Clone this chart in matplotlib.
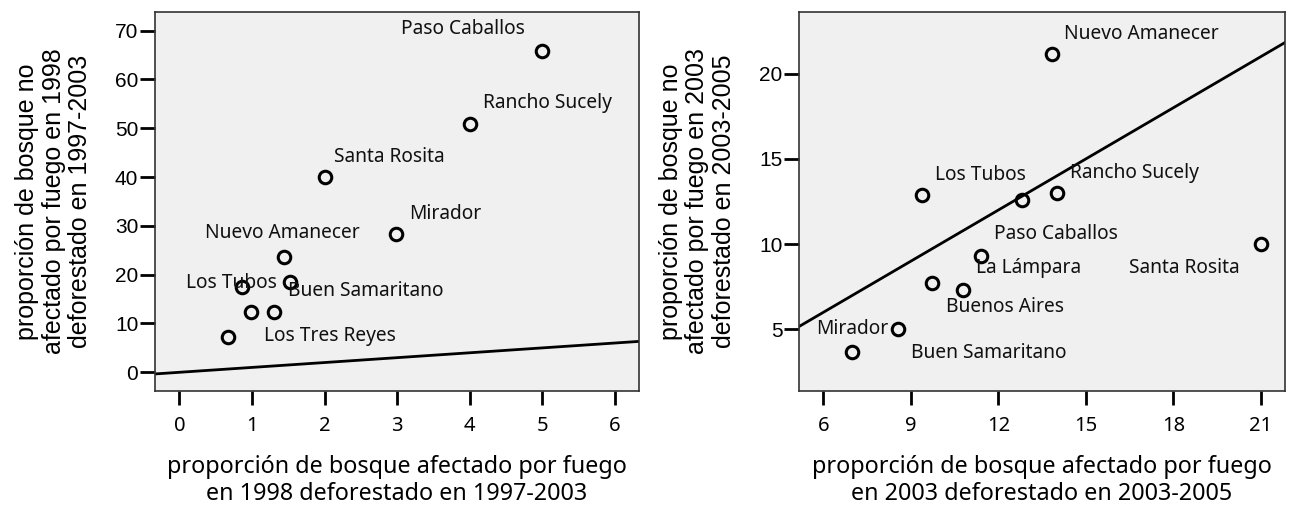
import matplotlib
matplotlib.use("Agg")
import matplotlib.pyplot as plt
import numpy as np

# panel 1: 1998 fire, 1997-2003 deforestation
x98 = [5.0, 4.0, 2.0, 2.98, 1.44, 1.52, 0.86, 0.99, 1.31, 0.67]
y98 = [65.8, 50.9, 40.0, 28.3, 23.6, 18.4, 17.5, 12.3, 12.3, 7.3]
labels98 = ["Paso Caballos", "Rancho Sucely", "Santa Rosita", "Mirador",
            "Nuevo Amanecer", "Buen Samaritano", "Los Tubos", "Los Tres Reyes"]

# panel 2: 2003 fire, 2003-2005 deforestation
x03 = [13.83, 9.38, 12.81, 14.0, 21.01, 11.41, 9.74, 10.78, 8.56, 7.0]
y03 = [21.16, 12.88, 12.6, 13.02, 10.0, 9.32, 7.7, 7.31, 5.0, 3.65]
labels03 = ["Nuevo Amanecer", "Los Tubos", "Rancho Sucely", "Paso Caballos",
            "La Lámpara", "Santa Rosita", "Buenos Aires", "Mirador",
            "Buen Samaritano"]

# where the names sit (data coords, left edge / vertical centre)
pos98 = [(3.05, 70.3), (4.18, 55.1), (2.13, 44.1), (3.16, 32.4),
         (0.36, 28.6), (1.50, 16.6), (0.09, 18.2), (1.17, 7.4)]
pos03 = [(14.27, 22.33), (9.84, 14.08), (14.46, 14.17), (11.86, 10.58),
         (11.24, 8.58), (16.49, 8.58), (10.20, 6.33), (5.77, 5.0),
         (9.01, 3.63)]

tick_font = "Liberation Sans"
text_font = "Noto Sans"

fig = plt.figure(figsize=(12.92, 5.08), dpi=100)
ax1 = fig.add_axes([155/1292, 117/508, 484/1292, 379/508])
ax2 = fig.add_axes([799/1292, 117/508, 486/1292, 379/508])


def panel(ax, xs, ys, names, pos, xlim, ylim, xticks, yticks, xlab, ylab):
    ax.set_facecolor("#f0f0f0")
    ax.set_xlim(xlim)
    ax.set_ylim(ylim)
    # 1:1 line
    lx = np.array(xlim)
    ax.plot(lx, lx, color="black", lw=2, zorder=2)
    ax.plot(xs, ys, "o", mfc="none", mec="black", mew=2.2, ms=9, zorder=3)
    for name, (tx, ty) in zip(names, pos):
        ax.text(tx, ty, name, ha="left", va="center", fontsize=13.8,
                family=text_font, color="#111111")
    ax.set_xticks(xticks)
    ax.set_yticks(yticks)
    ax.set_xticklabels([str(t) for t in xticks], family=text_font, fontsize=14.5)
    ax.set_yticklabels([str(t) for t in yticks], family=tick_font, fontsize=15)
    ax.tick_params(axis="x", length=10, width=2, pad=8, direction="out")
    ax.tick_params(axis="y", length=11, width=2, pad=1, direction="out")
    for s in ax.spines.values():
        s.set_linewidth(1.2)
        s.set_color("#333333")
    ax.text(0.5, -0.168, xlab, transform=ax.transAxes, ha="center", va="top",
            fontsize=16.8, family=text_font, linespacing=1.2)
    ax.text(-0.209, 0.5, ylab, transform=ax.transAxes, ha="center",
            va="center", rotation=90, fontsize=18, family=tick_font,
            linespacing=1.13)


panel(ax1, x98, y98, labels98, pos98, (-0.335, 6.33), (-3.83, 73.8),
      [0, 1, 2, 3, 4, 5, 6], [0, 10, 20, 30, 40, 50, 60, 70],
      "proporción de bosque afectado por fuego\nen 1998 deforestado en 1997-2003",
      "proporción de bosque no\nafectado por fuego en 1998\ndeforestado en 1997-2003")

panel(ax2, x03, y03, labels03, pos03, (5.17, 21.83), (1.39, 23.62),
      [6, 9, 12, 15, 18, 21], [5, 10, 15, 20],
      "proporción de bosque afectado por fuego\nen 2003 deforestado en 2003-2005",
      "proporción de bosque no\nafectado por fuego en 2003\ndeforestado en 2003-2005")

fig.savefig("out.png", dpi=100)
